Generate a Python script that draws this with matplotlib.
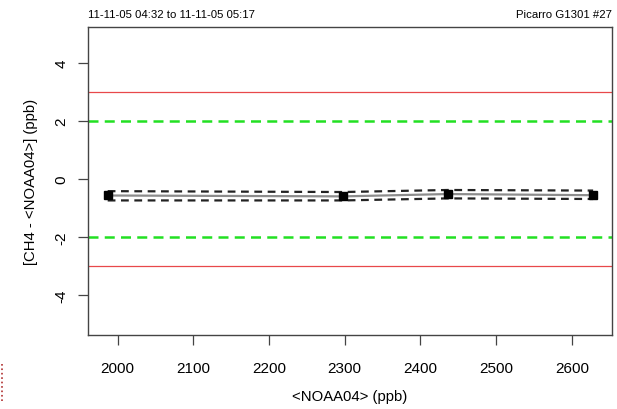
import matplotlib
matplotlib.use("Agg")
import matplotlib.pyplot as plt
from matplotlib.lines import Line2D

# reference values (ppb)
noaa = [1987, 2298, 2436, 2628]
diff = [-0.57, -0.60, -0.52, -0.56]
diff_hi = [-0.42, -0.45, -0.38, -0.40]
diff_lo = [-0.74, -0.74, -0.67, -0.69]
spec_red = [3, -3]
spec_green = [2, -2]
xticks = [2000, 2100, 2200, 2300, 2400, 2500, 2600]
yticks = [-4, -2, 0, 2, 4]

plt.rcParams["font.family"] = ["Liberation Sans", "DejaVu Sans"]

fig = plt.figure(figsize=(6.17, 4.10), dpi=100)
ax = fig.add_axes([0.1426, 0.1805, 0.8494, 0.7512])

for y in spec_red:
    ax.axhline(y, color="#e8484a", lw=0.9)
for y in spec_green:
    ax.axhline(y, color="#22e022", lw=1.8, ls=(0, (4, 2.5)))

ax.plot(noaa, diff, color="#8c8c8c", lw=1.6)
ax.plot(noaa, diff_hi, color="#222222", lw=1.6, ls=(0, (3.5, 2.5)))
ax.plot(noaa, diff_lo, color="#222222", lw=1.6, ls=(0, (3.5, 2.5)))
ax.plot(noaa, diff, ls="none", marker="s", ms=6, color="black")

ax.set_xlim(1961, 2653)
ax.set_ylim(-5.38, 5.24)
ax.set_xticks(xticks)
ax.set_yticks(yticks)
ax.set_yticklabels([str(v) for v in yticks], rotation=90, va="center")
ax.tick_params(direction="out", length=7, width=0.9, color="#444444",
               labelsize=11, pad=7)
ax.tick_params(axis="x", pad=12)
for s in ax.spines.values():
    s.set_color("#444444")
    s.set_linewidth(1.0)

ax.set_xlabel("<NOAA04> (ppb)", fontsize=10.7, labelpad=10)
ax.set_ylabel("[CH4 - <NOAA04>] (ppb)", fontsize=10.7, labelpad=12)

fig.text(0.1426, 0.952, "11-11-05 04:32 to 11-11-05 05:17", fontsize=8.2,
         ha="left", va="bottom")
fig.text(0.992, 0.952, "Picarro G1301 #27", fontsize=8.2, ha="right", va="bottom")

# scan artifact at the left edge
fig.add_artist(Line2D([0.004, 0.004], [0.02, 0.11], color="#b03030",
                      lw=1.2, ls=":", transform=fig.transFigure))

fig.savefig("out.png", dpi=100)
